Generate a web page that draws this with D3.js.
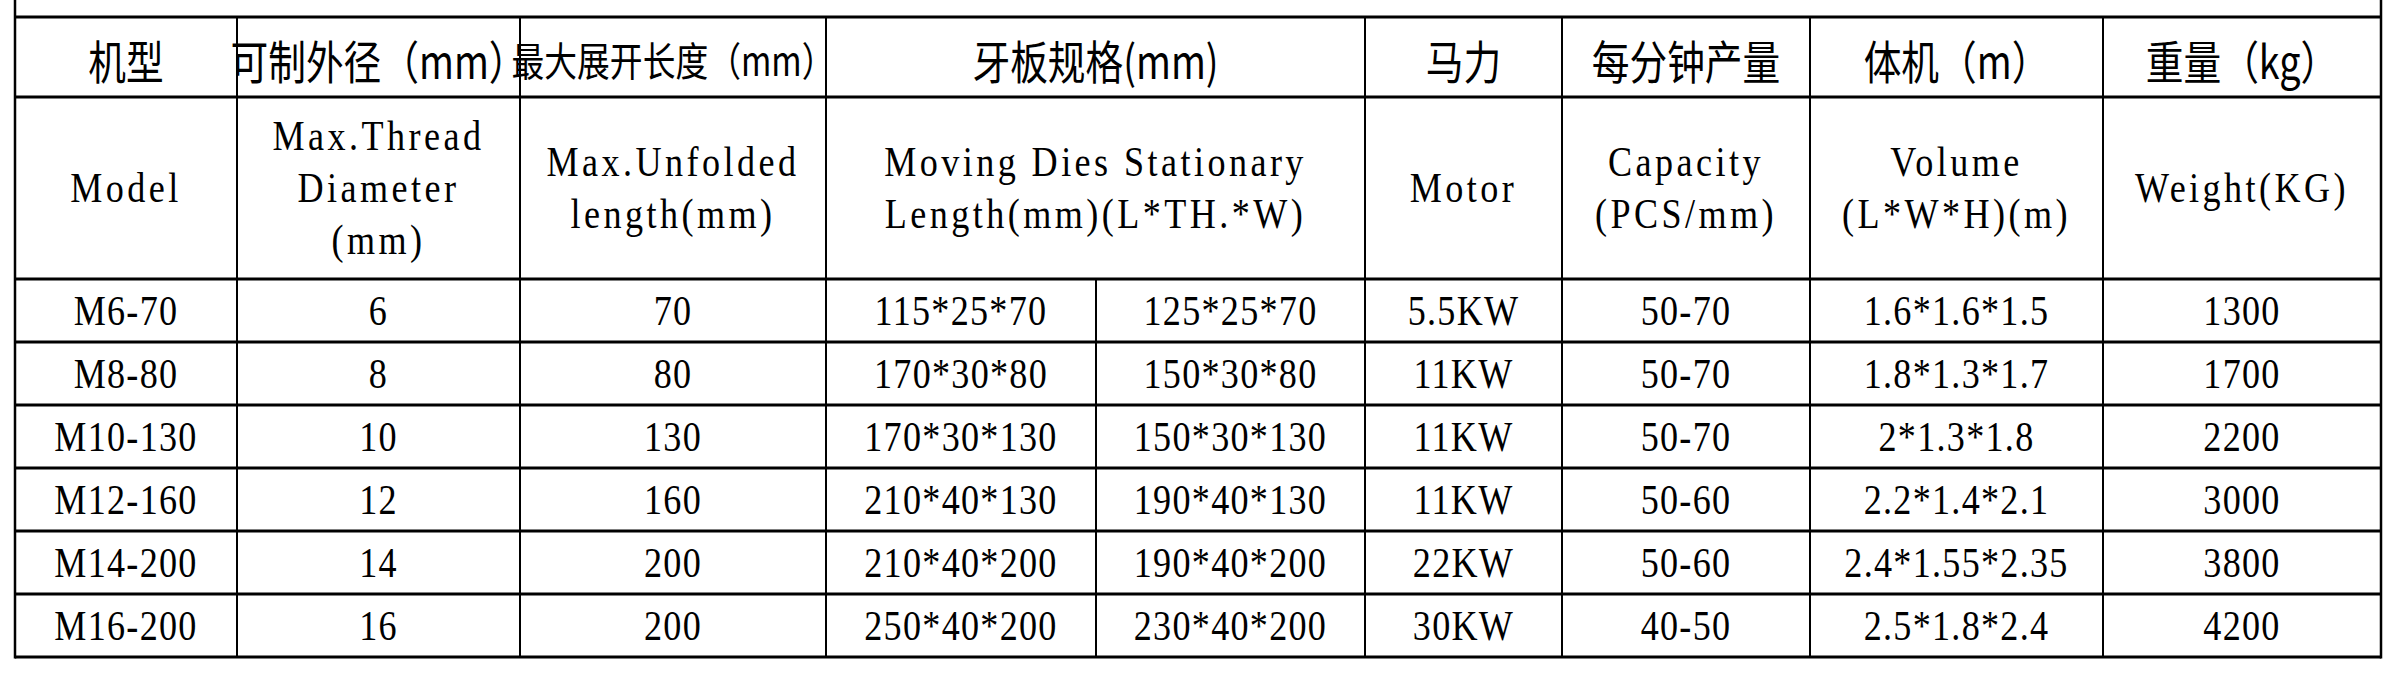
<!DOCTYPE html>
<html>
<head>
<meta charset="utf-8">
<script src="https://cdn.jsdelivr.net/npm/d3@7"></script>
<style>
  body { margin: 0; background: #fff; }
</style>
</head>
<body>
<div id="chart"></div>
<script>
// header texts
var headerCn = ["机型", "可制外径（mm）", "最大展开长度（mm）", "牙板规格(mm)", "马力", "每分钟产量", "体机（m）", "重量（kg）"]
var headerEn = [["Model"], ["Max.Thread", "Diameter", "(mm)"], ["Max.Unfolded", "length(mm)"],
  ["Moving Dies Stationary", "Length(mm)(L*TH.*W)"], ["Motor"], ["Capacity", "(PCS/mm)"],
  ["Volume", "(L*W*H)(m)"], ["Weight(KG)"]]

// data columns
var models = ["M6-70", "M8-80", "M10-130", "M12-160", "M14-200", "M16-200"]
var diameters = ["6", "8", "10", "12", "14", "16"]
var unfolded = ["70", "80", "130", "160", "200", "200"]
var movingDies = ["115*25*70", "170*30*80", "170*30*130", "210*40*130", "210*40*200", "250*40*200"]
var stationaryDies = ["125*25*70", "150*30*80", "150*30*130", "190*40*130", "190*40*200", "230*40*200"]
var motors = ["5.5KW", "11KW", "11KW", "11KW", "22KW", "30KW"]
var capacities = ["50-70", "50-70", "50-70", "50-60", "50-60", "40-50"]
var volumes = ["1.6*1.6*1.5", "1.8*1.3*1.7", "2*1.3*1.8", "2.2*1.4*2.1", "2.4*1.55*2.35", "2.5*1.8*2.4"]
var weights = ["1300", "1700", "2200", "3000", "3800", "4200"]

var W = 2400, H = 673
// column edges (9 data columns; header col 3 spans 3..4)
var colX = [15, 237, 520, 826, 1096, 1365, 1562, 1810, 2103, 2381]
var topY = 17, h1 = 97, h2 = 279, bottom = 657

var svg = d3.select("#chart").append("svg").attr("width", W).attr("height", H)

var y = d3.scaleBand().domain(models).range([h2, bottom])

var cols = [models, diameters, unfolded, movingDies, stationaryDies, motors, capacities, volumes, weights]
// header spans: [startCol, endCol]
var spans = [[0,1],[1,2],[2,3],[3,5],[5,6],[6,7],[7,8],[8,9]]

var cn = "'Noto Sans CJK SC', sans-serif"
var lat = "'Liberation Serif', serif"

function label(x, yy, t, fam, size, ls, sx) {
  svg.append("text")
    .attr("transform", `translate(${x},${yy}) scale(${sx || 0.86},1)`)
    .attr("text-anchor", "middle")
    .attr("dominant-baseline", "central")
    .style("font-family", fam)
    .style("font-size", size + "px")
    .style("letter-spacing", (ls || 0) + "px")
    .attr("fill", "#000")
    .text(t)
}

// header rows
spans.forEach(function(s, i){
  var cx = (colX[s[0]] + colX[s[1]]) / 2
  var t = headerCn[i]
  label(cx, (topY + h1) / 2 + 2, t, cn, t.length > 8 ? 40 : 46, 0, 0.82)
  var lines = headerEn[i]
  var step = 52
  var c = (h1 + h2) / 2
  lines.forEach(function(t, j){
    label(cx, c + (j - (lines.length - 1) / 2) * step, t, lat, 42, 4)
  })
})

// body cells
cols.forEach(function(col, ci){
  var cx = (colX[ci] + colX[ci + 1]) / 2
  col.forEach(function(v, ri){
    label(cx, y(models[ri]) + y.bandwidth() / 2, v, lat, 42, 1.5)
  })
})

// grid lines
var g = svg.append("g").attr("stroke", "#000")
g.selectAll("line.h").data([topY, h1, h2].concat(models.map(function(m){ return y(m) + y.bandwidth() })))
  .enter().append("line")
  .attr("x1", colX[0]).attr("x2", colX[colX.length - 1])
  .attr("y1", function(d){ return d }).attr("y2", function(d){ return d })
  .attr("stroke-width", 3)

// outer verticals reach top of page
g.selectAll("line.o").data([colX[0], colX[colX.length - 1]])
  .enter().append("line")
  .attr("x1", function(d){ return d }).attr("x2", function(d){ return d })
  .attr("y1", 0).attr("y2", bottom + 1.5)
  .attr("stroke-width", 2.5)

// inner verticals
colX.slice(1, -1).forEach(function(x, i){
  var idx = i + 1
  var y0 = idx === 4 ? h2 : topY
  g.append("line").attr("x1", x).attr("x2", x).attr("y1", y0).attr("y2", bottom)
    .attr("stroke-width", 2)
})
</script>
</body>
</html>
